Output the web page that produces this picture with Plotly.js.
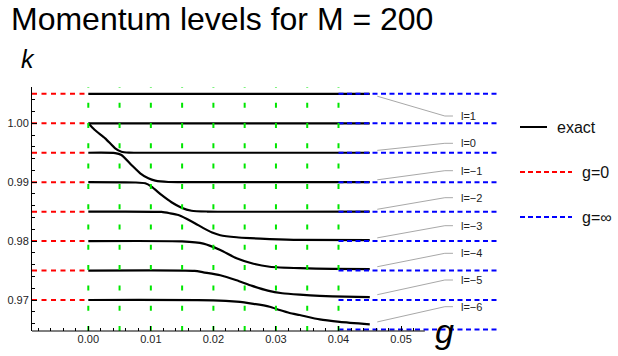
<!DOCTYPE html>
<html>
<head>
<meta charset="utf-8">
<script src="https://cdn.plot.ly/plotly-3.0.1.min.js"></script>
<style>html,body{margin:0;padding:0;background:#fff}#chart{width:618px;height:356px}</style>
</head>
<body>
<div id="chart"></div>
<script>
// ---------- data ----------
const gF1 = [0, 0.045];
const kF1 = [1.005, 1.005];
const gF2 = [0, 0.045];
const kF2 = [1.000, 1.000];
const gA = [0, 0.001, 0.0027, 0.0043, 0.0053, 0.0065, 0.008, 0.045];
const kA = [1.0, 0.9989, 0.99745, 0.99576, 0.99518, 0.99503, 0.995, 0.995];
const gB = [0, 0.0043, 0.0053, 0.0069, 0.0083, 0.0096, 0.0107, 0.0128, 0.016, 0.045];
const kB = [0.995, 0.99495, 0.99462, 0.99292, 0.99151, 0.99066, 0.99026, 0.99003, 0.990, 0.990];
const gC = [0, 0.0075, 0.0091, 0.0101, 0.0117, 0.0133, 0.0149, 0.0165, 0.019, 0.045];
const kC = [0.990, 0.98995, 0.98981, 0.98924, 0.98783, 0.98659, 0.98567, 0.98516, 0.98502, 0.985];
const gD = [0, 0.0117, 0.0131, 0.0144, 0.0157, 0.0171, 0.0184, 0.0198, 0.0211, 0.0237, 0.0259, 0.029, 0.0338, 0.045];
const kD = [0.985, 0.98495, 0.98472, 0.98443, 0.9838, 0.9830, 0.9822, 0.98145, 0.9810, 0.98065, 0.9805, 0.98035, 0.9802, 0.98015];
const gE3 = [0, 0.015, 0.0184, 0.0211, 0.0237, 0.0264, 0.029, 0.0338, 0.039, 0.045];
const kE3 = [0.980, 0.97995, 0.97958, 0.97849, 0.97708, 0.97615, 0.97565, 0.9754, 0.9753, 0.97525];
const gE4 = [0, 0.017, 0.0184, 0.0211, 0.0237, 0.0262, 0.0287, 0.031, 0.0338, 0.037, 0.041, 0.045];
const kE4 = [0.975, 0.97495, 0.9747, 0.9742, 0.97335, 0.9724, 0.9716, 0.97115, 0.9709, 0.9707, 0.97058, 0.9705];
const gE5 = [0, 0.02, 0.0237, 0.0264, 0.029, 0.0306, 0.0322, 0.0338, 0.037, 0.0402, 0.045];
const kE5 = [0.970, 0.96995, 0.96972, 0.96935, 0.96886, 0.9683, 0.9678, 0.96745, 0.9667, 0.9663, 0.96588];

const g0Levels = [1.005, 1.000, 0.995, 0.990, 0.985, 0.980, 0.975, 0.970];
const gInfLevels = [1.005, 1.000, 0.995, 0.990, 0.985, 0.980, 0.975, 0.970, 0.965];
const gridG = [0, 0.005, 0.01, 0.015, 0.02, 0.025, 0.03, 0.035, 0.04];

const levelLabels = ["l=1", "l=0", "l=\u22121", "l=\u22122", "l=\u22123", "l=\u22124", "l=\u22125", "l=\u22126"];
const xTickVals = [0, 0.01, 0.02, 0.03, 0.04, 0.05];
const xTickText = ["0.00", "0.01", "0.02", "0.03", "0.04", "0.05"];
const yTickVals = [0.97, 0.98, 0.99, 1.00];
const yTickText = ["0.97", "0.98", "0.99", "1.00"];

// ---------- layout geometry ----------
const W = 618, H = 356;
const M = {l: 32, r: 120, t: 87, b: 25};
const xRange = [-0.009, 0.0655];
const yRange = [0.96474, 1.00616];
const xAxisEnd = 0.0538;
const infStart = 0.04;
const pw = W - M.l - M.r, ph = H - M.t - M.b;
const px = x => (x - M.l) / pw;           // pixel -> paper x
const py = y => (M.t + ph - y) / ph;      // pixel -> paper y
const FONT = "Liberation Sans, Arial, Helvetica, sans-serif";

const curves = [[gF1,kF1],[gF2,kF2],[gA,kA],[gB,kB],[gC,kC],[gD,kD],[gE3,kE3],[gE4,kE4],[gE5,kE5]];
const labelCurves = [kF1, kA, kB, kC, kD, kE3, kE4, kE5];
const labelPixY = [116, 143.3, 170.7, 197.7, 225.7, 253.3, 280, 306.7];

const traces = [];
curves.forEach(([g,k]) => traces.push({
  x: g, y: k, mode: 'lines', line: {color: '#000', width: 2.2, shape: 'spline', smoothing: 0.6},
  hoverinfo: 'skip', showlegend: false
}));
g0Levels.forEach(v => traces.push({
  x: [xRange[0], 0], y: [v, v], mode: 'lines',
  line: {color: '#ff0000', width: 2, dash: '5px,4.5px'}, hoverinfo: 'skip', showlegend: false
}));
gInfLevels.forEach(v => traces.push({
  x: [infStart, xRange[1]], y: [v, v], mode: 'lines',
  line: {color: '#0000ff', width: 2, dash: '5px,3.5px'}, hoverinfo: 'skip', showlegend: false
}));
gridG.forEach(v => traces.push({
  x: [v, v], y: [yRange[0], yRange[1]], mode: 'lines',
  line: {color: '#00e600', width: 2, dash: '5px,15.3px'}, hoverinfo: 'skip', showlegend: false
}));

const shapes = [];
shapes.push({type: 'line', xref: 'x', yref: 'paper', x0: xRange[0], x1: xAxisEnd, y0: 0, y1: 0,
  line: {color: '#000', width: 1}});
const annotations = [];
const gLeadStart = 0.0462, gLeadMid = 0.0570, gLeadEnd = 0.0583, gLabel = 0.0594;
const yaPix = y => yRange[0] + (M.t + ph - y) / ph * (yRange[1] - yRange[0]);
levelLabels.forEach((lab, i) => {
  const endK = labelCurves[i][labelCurves[i].length - 1];
  const ly = yaPix(labelPixY[i]);
  const sk = endK + (ly < endK ? -0.0004 : 0.0004);
  shapes.push({type: 'path', xref: 'x', yref: 'y',
    path: `M ${gLeadStart},${sk} L ${gLeadMid},${ly} L ${gLeadEnd},${ly}`,
    line: {color: '#a8a8a8', width: 1}});
  annotations.push({xref: 'x', yref: 'y', x: gLabel, y: ly, text: lab, showarrow: false,
    xanchor: 'left', yanchor: 'middle', font: {family: FONT, size: 11, color: '#222'}, borderpad: 0});
});
shapes.push({type: 'line', xref: 'paper', yref: 'paper', x0: px(520), x1: px(547), y0: py(127), y1: py(127),
  line: {color: '#000', width: 2}});
shapes.push({type: 'line', xref: 'paper', yref: 'paper', x0: px(520), x1: px(572), y0: py(172), y1: py(172),
  line: {color: '#ff0000', width: 2, dash: '5px,3px'}});
shapes.push({type: 'line', xref: 'paper', yref: 'paper', x0: px(520), x1: px(572), y0: py(217), y1: py(217),
  line: {color: '#0000ff', width: 2, dash: '5px,3px'}});
[["exact", 556, 127], ["g=0", 581, 172], ["g=\u221e", 581, 217]].forEach(([t, x, y]) => annotations.push({
  xref: 'paper', yref: 'paper', x: px(x), y: py(y), text: t, showarrow: false,
  xanchor: 'left', yanchor: 'middle', font: {family: FONT, size: 16, color: '#111'}, borderpad: 0}));
annotations.push({xref: 'paper', yref: 'paper', x: px(10), y: py(19), text: 'Momentum levels for M = 200',
  showarrow: false, xanchor: 'left', yanchor: 'middle', font: {family: FONT, size: 32, color: '#000'}, borderpad: 0});
annotations.push({xref: 'paper', yref: 'paper', x: px(20), y: py(59), text: '<i>k</i>',
  showarrow: false, xanchor: 'left', yanchor: 'middle', font: {family: FONT, size: 25, color: '#000'}, borderpad: 0});
annotations.push({xref: 'paper', yref: 'paper', x: px(434), y: py(331), text: '<i>g</i>',
  showarrow: false, xanchor: 'left', yanchor: 'middle', font: {family: FONT, size: 34, color: '#000'}, borderpad: 0});

const layout = {
  width: W, height: H, margin: M, paper_bgcolor: '#fff', plot_bgcolor: '#fff',
  showlegend: false,
  font: {family: FONT, size: 11, color: '#222'},
  xaxis: {range: xRange, showgrid: false, zeroline: false, showline: false,
    tickmode: 'array', tickvals: xTickVals, ticktext: xTickText,
    ticks: 'inside', ticklen: 5, tickwidth: 1, tickcolor: '#000',
    minor: {tickmode: 'array', tickvals: [-0.008,-0.006,-0.004,-0.002,0.002,0.004,0.006,0.008,0.012,0.014,0.016,0.018,0.022,0.024,0.026,0.028,0.032,0.034,0.036,0.038,0.042,0.044,0.046,0.048,0.052],
      ticks: 'inside', ticklen: 3, tickcolor: '#000', tickwidth: 1, showgrid: false},
    tickfont: {family: FONT, size: 11, color: '#222'}, fixedrange: true},
  yaxis: {range: yRange, showgrid: false, zeroline: false, showline: true, linecolor: '#000', linewidth: 1,
    tickmode: 'array', tickvals: yTickVals, ticktext: yTickText,
    ticks: 'inside', ticklen: 5, tickwidth: 1, tickcolor: '#000',
    minor: {tick0: 0, dtick: 0.002, ticks: 'inside', ticklen: 3, tickcolor: '#000', tickwidth: 1, showgrid: false},
    tickfont: {family: FONT, size: 11, color: '#222'}, fixedrange: true},
  shapes: shapes, annotations: annotations
};
Plotly.newPlot('chart', traces, layout, {staticPlot: true, displayModeBar: false});
</script>
</body>
</html>
